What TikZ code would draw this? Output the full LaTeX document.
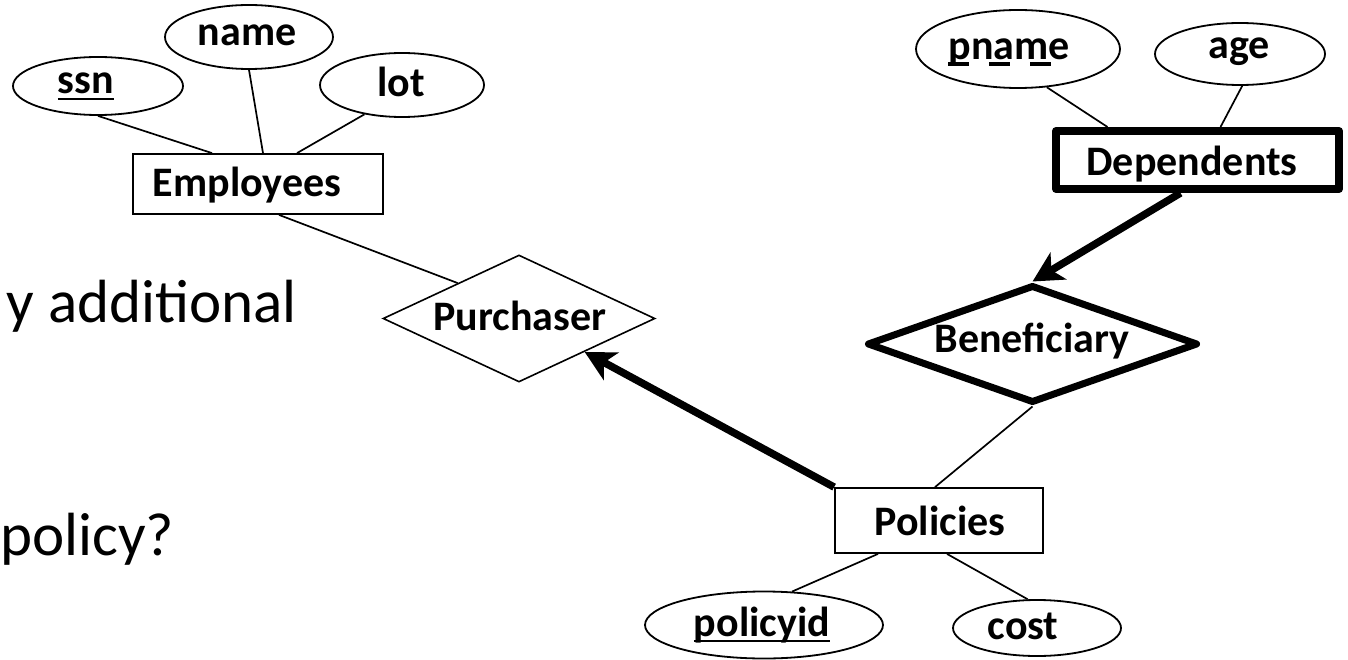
\documentclass[tikz,border=0pt]{standalone}
\usepackage{fontspec}
\setmainfont{Carlito}
\usetikzlibrary{shapes.geometric,arrows.meta}
\begin{document}
\begin{tikzpicture}[x=1pt,y=-1pt,
  attr/.style={draw, ellipse, line width=1.8pt, inner sep=0pt},
  ent/.style={draw, rectangle, line width=1.8pt, inner sep=0pt},
  weakent/.style={draw, rectangle, line width=8pt, line join=round, inner sep=0pt},
  rel/.style={draw, diamond, line width=1.6pt, inner sep=0pt},
  weakrel/.style={draw, diamond, line width=7pt, line join=round, inner sep=0pt},
  lbl/.style={anchor=base, inner sep=0pt, font=\fontsize{42}{50}\selectfont\bfseries},
  big/.style={inner sep=0pt, font=\fontsize{61}{73}\selectfont},
  conn/.style={line width=1.7pt},
  thickarr/.style={line width=7.5pt, -{Stealth[length=30pt,width=31pt,inset=8pt]}},
  ulsolid/.style={line width=2.3pt},
  uldash/.style={line width=4pt, dash pattern=on 21pt off 20pt}]
\fill[white] (0,0) rectangle (1348,660);
\useasboundingbox (0,0) rectangle (1348,660);

% left text fragments
\node[big, anchor=base east] (txtA) at (297,322) {y additional};
\node[big, anchor=base west] (txtB) at (0,555) {policy?};

% entities
\node[ent, minimum width=250pt, minimum height=60pt] (emp) at (258,184) {};
\node[weakent, minimum width=283pt, minimum height=58pt] (dep) at (1197.5,160) {};
\node[ent, minimum width=208pt, minimum height=65pt] (pol) at (939,520.5) {};

% relationships
\node[rel, minimum width=272pt, minimum height=127pt] (pur) at (519,318.5) {};
\node[weakrel, minimum width=331pt, minimum height=118pt] (ben) at (1032.5,344) {};

% attributes
\node[attr, minimum width=170pt, minimum height=58pt] (ssn) at (98,86) {};
\node[attr, minimum width=168pt, minimum height=64pt] (name) at (249,37) {};
\node[attr, minimum width=164pt, minimum height=64pt] (lot) at (402,85) {};
\node[attr, minimum width=204pt, minimum height=78pt] (pname) at (1018,49) {};
\node[attr, minimum width=170pt, minimum height=62pt] (age) at (1240,54) {};
\node[attr, minimum width=238pt, minimum height=67pt] (pid) at (764,625) {};
\node[attr, minimum width=168pt, minimum height=56pt] (cost) at (1037,628) {};

% labels
\node[lbl] (empT) at (247,197) {Employees};
\node[lbl] (depT) at (1192,176) {Dependents};
\node[lbl] (polT) at (940,535) {Policies};
\node[lbl] (purT) at (520,330) {Purchaser};
\node[lbl] (benT) at (1032,352) {Beneficiary};
\node[lbl] (ssnT) at (86,94) {ssn};
\node[lbl] (nameT) at (247,46) {name};
\node[lbl] (lotT) at (401,97) {lot};
\node[lbl] (pnameT) at (1009,60) {pname};
\node[lbl] (ageT) at (1239,59) {age};
\node[lbl] (pidT) at (762,636) {policyid};
\node[lbl] (costT) at (1023,639) {cost};

% underlines
\draw[ulsolid] ([yshift=-5pt]ssnT.base west) -- ([yshift=-5pt]ssnT.base east);
\draw[ulsolid] ([yshift=-5pt]pidT.base west) -- ([yshift=-5pt]pidT.base east);
\draw[uldash] ([yshift=-4pt]pnameT.base west) -- ([xshift=104pt,yshift=-4pt]pnameT.base west);

% connectors
\draw[conn] (ssn.south) -- ([xshift=-46pt]emp.north);
\draw[conn] (name.south) -- ([xshift=5pt]emp.north);
\draw[conn] (lot.218) -- ([xshift=39pt]emp.north);
\draw[conn] ([xshift=21pt]emp.south) -- (pur.150);
\draw[thickarr] (pol.north west) -- (pur.-27);
\draw[conn] (pname.-53) -- ([xshift=-90pt]dep.north);
\draw[conn] (age.-86) -- ([xshift=23pt]dep.north);
\draw[thickarr] ([xshift=-17pt]dep.south) -- (ben.north);
\draw[conn] (ben.south) -- ([xshift=-4pt]pol.north);
\draw[conn] ([xshift=-61pt]pol.south) -- (pid.50);
\draw[conn] ([xshift=8pt]pol.south) -- (cost.108);
\end{tikzpicture}
\end{document}
